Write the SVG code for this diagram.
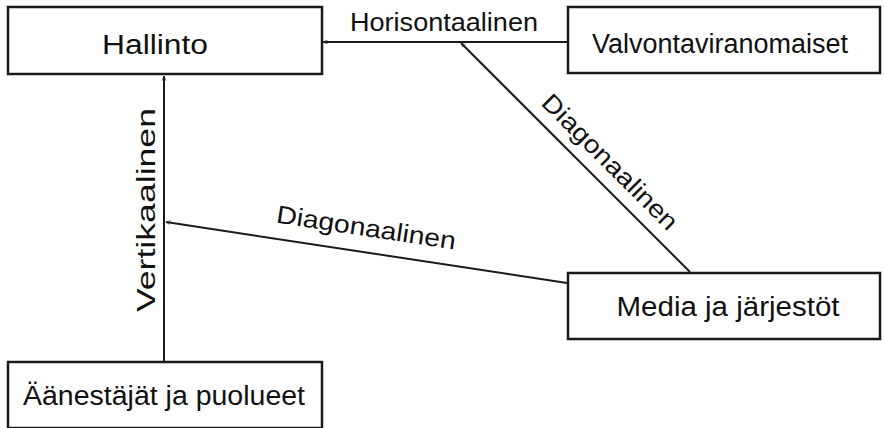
<svg xmlns="http://www.w3.org/2000/svg" width="884" height="428" viewBox="0 0 884 428">
<style>
.box{fill:#fff;stroke:#1a1a1a;stroke-width:2.5}
.lbl{font-family:"Liberation Sans",Arial,sans-serif;font-size:27px;fill:#111;text-anchor:middle}
.edge{font-family:"Liberation Sans",Arial,sans-serif;font-size:25px;fill:#111;text-anchor:middle}
.conn{stroke:#1a1a1a;stroke-width:2;fill:none;marker-end:url(#arr)}
</style>
<defs>
<marker id="arr" viewBox="0 0 10 10" refX="9.5" refY="5" markerWidth="5" markerHeight="5" orient="auto" markerUnits="userSpaceOnUse">
<path d="M0,1 L10,5 L0,9" fill="none" stroke="#333" stroke-width="1.2"/>
</marker>
</defs>
<rect width="884" height="428" fill="#fff"/>
<g id="connectors">
<line class="conn" x1="568" y1="42" x2="323" y2="42"/>
<line class="conn" x1="690" y1="272" x2="461" y2="43"/>
<line class="conn" x1="567" y1="283" x2="166" y2="222"/>
<line class="conn" x1="164" y1="362" x2="164" y2="76"/>
<text class="edge" x="444" y="31" textLength="188" lengthAdjust="spacingAndGlyphs">Horisontaalinen</text>
<text class="edge" transform="translate(604,168) rotate(45)" x="0" y="0" textLength="181" lengthAdjust="spacingAndGlyphs">Diagonaalinen</text>
<text class="edge" transform="translate(365,236) rotate(8.6)" x="0" y="0" textLength="181" lengthAdjust="spacingAndGlyphs">Diagonaalinen</text>
<text class="edge" transform="translate(155,210) rotate(-90)" x="0" y="0" textLength="204" lengthAdjust="spacingAndGlyphs">Vertikaalinen</text>
</g>
<g id="hallinto">
<rect class="box" x="8" y="7" width="314" height="67"/>
<text class="lbl" x="155" y="54" textLength="106" lengthAdjust="spacingAndGlyphs">Hallinto</text>
</g>
<g id="valvontaviranomaiset">
<rect class="box" x="568" y="7" width="312" height="66"/>
<text class="lbl" x="720" y="53" textLength="256" lengthAdjust="spacingAndGlyphs">Valvontaviranomaiset</text>
</g>
<g id="media">
<rect class="box" x="568" y="273" width="312" height="66"/>
<text class="lbl" x="728" y="316" textLength="223" lengthAdjust="spacingAndGlyphs">Media ja järjestöt</text>
</g>
<g id="aanestajat">
<rect class="box" x="8" y="362" width="314" height="66"/>
<text class="lbl" x="164" y="405" textLength="282" lengthAdjust="spacingAndGlyphs">Äänestäjät ja puolueet</text>
</g>
</svg>
